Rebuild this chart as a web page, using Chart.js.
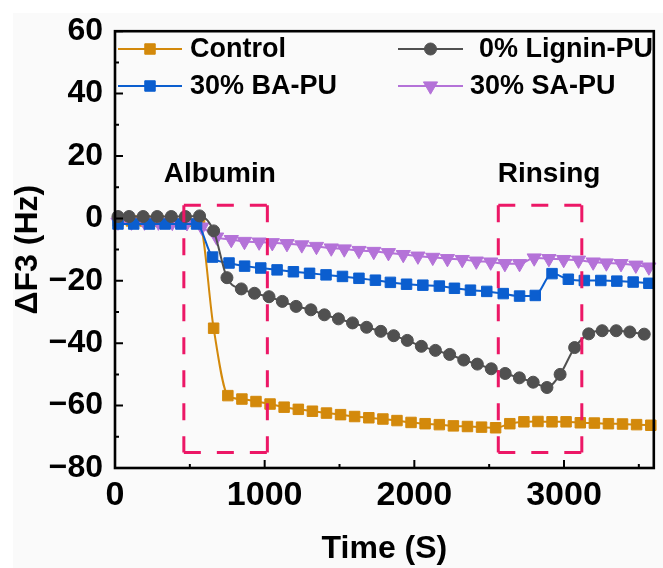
<!DOCTYPE html>
<html>
<head>
<meta charset="utf-8">
<script src="https://cdn.jsdelivr.net/npm/chart.js@4.4.1/dist/chart.umd.min.js"></script>
<style>
  html, body { margin: 0; padding: 0; background: #fff; }
</style>
</head>
<body>
<canvas id="chart" width="663" height="568"></canvas>
<script>
// Time (s) and frequency shift ΔF3 (Hz)
const ctrlTime = [20, 110, 200, 290, 380, 471, 565, 659, 754, 848, 942, 1036, 1130, 1225, 1319, 1413, 1507, 1601, 1696, 1790, 1884, 1978, 2072, 2167, 2261, 2355, 2449, 2543, 2638, 2732, 2826, 2920, 3014, 3109, 3203, 3297, 3391, 3485, 3580];
const ctrlDF3 = [-0.8, -0.8, -0.8, -0.8, -0.8, -0.9, -1.5, -35.2, -56.8, -57.9, -58.7, -59.5, -60.5, -61.2, -61.8, -62.4, -62.9, -63.5, -63.9, -64.3, -64.8, -65.4, -65.8, -66.1, -66.5, -66.7, -66.9, -67.1, -65.8, -65.2, -65.1, -65.2, -65.2, -65.5, -65.6, -65.8, -65.9, -66.1, -66.3];

const ligTime = [20, 94, 188, 282, 376, 470, 565, 659, 748, 844, 932, 1029, 1118, 1210, 1309, 1399, 1493, 1587, 1681, 1776, 1862, 1953, 2047, 2141, 2236, 2330, 2421, 2514, 2607, 2702, 2794, 2886, 2974, 3071, 3165, 3255, 3349, 3440, 3536];
const ligDF3 = [0.6, 0.6, 0.6, 0.6, 0.6, 0.6, 0.8, -4.0, -19.0, -22.6, -24.0, -25.1, -26.6, -28.2, -29.3, -30.9, -32.2, -33.5, -34.9, -36.2, -37.6, -39.1, -41.0, -42.3, -43.6, -45.4, -46.7, -48.2, -49.7, -51.1, -52.5, -54.2, -50.0, -41.4, -37.0, -36.0, -36.0, -36.4, -37.1];

const baTime = [20, 125, 230, 335, 440, 545, 652, 762, 866, 974, 1083, 1192, 1300, 1410, 1520, 1630, 1740, 1840, 1948, 2057, 2167, 2268, 2375, 2484, 2594, 2703, 2808, 2920, 3029, 3136, 3246, 3353, 3462, 3567];
const baDF3 = [-1.8, -1.8, -1.8, -1.8, -1.8, -1.8, -12.4, -14.3, -15.3, -15.9, -16.5, -17.1, -17.6, -18.1, -18.6, -19.2, -19.8, -20.5, -21.1, -21.4, -21.7, -22.4, -23.0, -23.4, -24.1, -24.9, -24.7, -17.7, -19.5, -19.9, -19.9, -20.1, -20.4, -20.8];

const saTime = [20, 110, 197, 290, 383, 481, 580, 679, 777, 865, 963, 1051, 1149, 1248, 1346, 1445, 1532, 1630, 1729, 1827, 1926, 2024, 2123, 2221, 2320, 2414, 2510, 2605, 2703, 2801, 2899, 2998, 3097, 3195, 3283, 3381, 3480, 3567];
const saDF3 = [-1.2, -1.2, -1.2, -1.2, -1.3, -1.4, -2.8, -6.0, -6.8, -7.4, -7.6, -7.8, -8.1, -8.5, -9.0, -9.5, -9.8, -10.3, -10.6, -11.0, -11.6, -12.1, -12.5, -12.9, -13.2, -13.7, -14.0, -14.5, -14.5, -12.7, -12.9, -13.2, -13.4, -14.0, -14.3, -14.5, -15.0, -15.6];

const xTicks = [0, 1000, 2000, 3000];
const xMinor = [500, 1500, 2500, 3500];
const yTicks = [-80, -60, -40, -20, 0, 20, 40, 60];
const yMinor = [-70, -50, -30, -10, 10, 30, 50];

// stage markers: label, box left / right (s), box top / bottom (Hz)
const stageLabels = ["Albumin", "Rinsing"];
const stageLabelX = [700, 2900];
const stageLabelY = 14;
const stageStart = [460, 2561];
const stageEnd = [1018, 3119];
const stageTop = 4.2;
const stageBottom = -75;

const FONT = '"Liberation Sans", Arial, sans-serif';

function pts(xs, ys) {
  return xs.map((x, i) => ({ x, y: ys[i] }));
}

function series(label, xs, ys, color, style, radius, rotation) {
  return {
    label,
    data: pts(xs, ys),
    borderColor: color,
    backgroundColor: color,
    borderWidth: 2,
    pointStyle: style,
    pointRadius: radius,
    pointRotation: rotation || 0,
    pointBorderWidth: 1,
    pointBorderColor: color,
    pointBackgroundColor: color,
    cubicInterpolationMode: "monotone",
    clip: 8,
  };
}

const datasets = [
  series("0% Lignin-PU", ligTime, ligDF3, "#505050", "circle", 6),
  series("30% BA-PU", baTime, baDF3, "#0b5ecf", "rect", 7.4),
  series("30% SA-PU", saTime, saDF3, "#b472d8", "triangle", 8.2, 180),
  series("Control", ctrlTime, ctrlDF3, "#d3890b", "rect", 7.4),
];

// legend slots (line start, line end, text x, row y)
const legendSlots = {
  "Control": [118, 182, 190, 49],
  "0% Lignin-PU": [398, 463, 479, 49],
  "30% BA-PU": [118, 182, 190, 86],
  "30% SA-PU": [398, 463, 470, 86],
};

function marker(ctx, ds, x, y) {
  const opts = {
    pointStyle: ds.pointStyle,
    radius: ds.pointRadius,
    rotation: ds.pointRotation,
    borderWidth: 1,
  };
  ctx.fillStyle = ds.pointBackgroundColor;
  ctx.strokeStyle = ds.pointBorderColor;
  ctx.lineWidth = 1;
  Chart.helpers.drawPoint(ctx, opts, x, y);
}

const decor = {
  id: "decor",
  beforeDraw(chart) {
    const { ctx, width, height } = chart;
    ctx.save();
    ctx.fillStyle = "#fafafa";
    ctx.fillRect(13, 13, width - 13, height - 13);
    ctx.restore();
  },
  afterDatasetsDraw(chart) {
    const { ctx, chartArea: a } = chart;
    const xs = chart.scales.x;
    const ys = chart.scales.y;
    ctx.save();

    // dashed stage boxes
    ctx.strokeStyle = "#ec1766";
    ctx.lineWidth = 3;
    ctx.setLineDash([17, 16]);
    stageStart.forEach((s, i) => {
      const l = xs.getPixelForValue(s);
      const r = xs.getPixelForValue(stageEnd[i]);
      const t = ys.getPixelForValue(stageTop);
      const b = ys.getPixelForValue(stageBottom);
      [[l, t, r, t], [l, t, l, b], [r, t, r, b], [l, b, r, b]].forEach(([x0, y0, x1, y1]) => {
        ctx.beginPath();
        ctx.moveTo(x0, y0);
        ctx.lineTo(x1, y1);
        ctx.stroke();
      });
    });
    ctx.setLineDash([]);

    // stage labels
    ctx.fillStyle = "#000";
    ctx.font = "bold 28px " + FONT;
    ctx.textAlign = "center";
    ctx.textBaseline = "middle";
    stageLabels.forEach((t, i) => {
      ctx.fillText(t, xs.getPixelForValue(stageLabelX[i]), ys.getPixelForValue(stageLabelY));
    });

    // frame and inward ticks
    ctx.strokeStyle = "#000";
    ctx.lineWidth = 2.6;
    ctx.strokeRect(a.left, a.top, a.right - a.left, a.bottom - a.top);
    ctx.lineWidth = 2;
    ctx.beginPath();
    xTicks.forEach(v => {
      const p = xs.getPixelForValue(v);
      ctx.moveTo(p, a.bottom); ctx.lineTo(p, a.bottom - 8);
    });
    xMinor.forEach(v => {
      const p = xs.getPixelForValue(v);
      ctx.moveTo(p, a.bottom); ctx.lineTo(p, a.bottom - 4);
    });
    yTicks.forEach(v => {
      const p = ys.getPixelForValue(v);
      ctx.moveTo(a.left, p); ctx.lineTo(a.left + 8, p);
    });
    yMinor.forEach(v => {
      const p = ys.getPixelForValue(v);
      ctx.moveTo(a.left, p); ctx.lineTo(a.left + 4, p);
    });
    ctx.stroke();

    // legend: line with a marker in the middle
    ctx.font = "bold 27px " + FONT;
    ctx.textAlign = "left";
    chart.data.datasets.forEach(ds => {
      const [x0, x1, tx, y] = legendSlots[ds.label];
      ctx.strokeStyle = ds.borderColor;
      ctx.lineWidth = 2;
      ctx.beginPath();
      ctx.moveTo(x0, y); ctx.lineTo(x1, y);
      ctx.stroke();
      marker(ctx, ds, (x0 + x1) / 2, y);
      ctx.fillStyle = "#000";
      ctx.fillText(ds.label, tx, y + 1);
    });

    ctx.restore();
  },
};

new Chart(document.getElementById("chart"), {
  type: "line",
  data: { datasets },
  options: {
    responsive: false,
    animation: false,
    layout: { padding: { top: 27, right: 0, left: 0, bottom: 0 } },
    plugins: { legend: { display: false }, tooltip: { enabled: false } },
    scales: {
      x: {
        type: "linear",
        min: 0,
        max: 3600,
        afterBuildTicks: s => { s.ticks = xTicks.map(v => ({ value: v })); },
        afterFit: s => { s.height = 100; },
        grid: { display: false, drawTicks: false },
        border: { display: false },
        ticks: {
          color: "#000",
          font: { family: FONT, size: 34, weight: "bold" },
          padding: 7,
          maxRotation: 0,
          autoSkip: false,
          callback: v => String(v),
        },
        title: { display: true, text: "Time (S)", color: "#000", font: { family: FONT, size: 32, weight: "bold" }, padding: { top: 0, bottom: 0 } },
      },
      y: {
        type: "linear",
        min: -80,
        max: 60,
        afterBuildTicks: s => { s.ticks = yTicks.map(v => ({ value: v })); },
        afterFit: s => { s.width = 115; },
        grid: { display: false, drawTicks: false },
        border: { display: false },
        ticks: {
          color: "#000",
          font: { family: FONT, size: 32, weight: "bold" },
          padding: 12,
          callback: v => String(v).replace("-", "\u2212"),
        },
        title: { display: true, text: "ΔF3 (Hz)", color: "#000", font: { family: FONT, size: 32, weight: "bold" }, padding: { top: 9, bottom: 0 } },
      },
    },
  },
  plugins: [decor],
});
</script>
</body>
</html>
